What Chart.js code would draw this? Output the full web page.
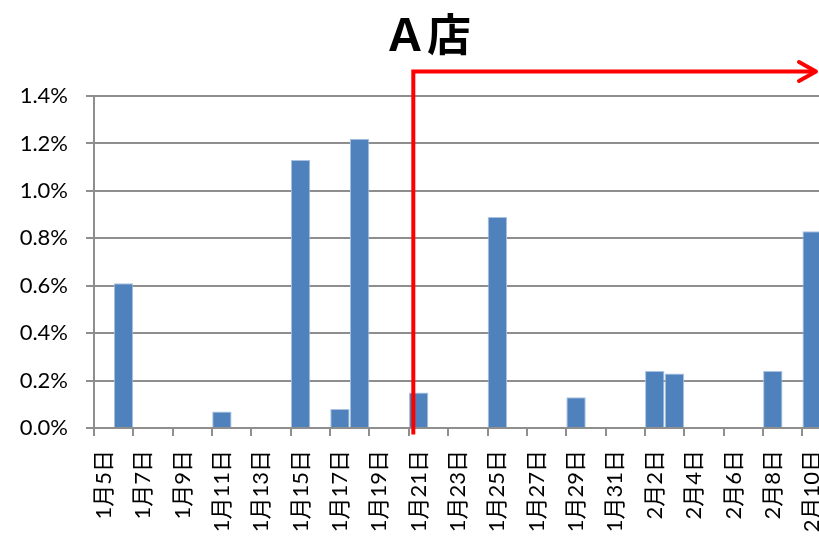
<!DOCTYPE html>
<html lang="ja">
<head>
<meta charset="utf-8">
<title>Ａ店</title>
<script src="https://cdn.jsdelivr.net/npm/chart.js@4.4.1/dist/chart.umd.min.js"></script>
<style>
  html, body { margin: 0; padding: 0; background: #ffffff; overflow: hidden; }
  #wrap { width: 819px; height: 541px; overflow: hidden; position: relative; }
  canvas { display: block; }
</style>
</head>
<body>
<div id="wrap"><canvas id="chart" width="854" height="570"></canvas></div>
<script>
// Daily rate for store A (percent)
const chartTitle = 'Ａ店';

const days = [
  '1月5日', '1月6日', '1月7日', '1月8日', '1月9日', '1月10日', '1月11日', '1月12日',
  '1月13日', '1月14日', '1月15日', '1月16日', '1月17日', '1月18日', '1月19日', '1月20日',
  '1月21日', '1月22日', '1月23日', '1月24日', '1月25日', '1月26日', '1月27日', '1月28日',
  '1月29日', '1月30日', '1月31日', '2月1日', '2月2日', '2月3日', '2月4日', '2月5日',
  '2月6日', '2月7日', '2月8日', '2月9日', '2月10日'
];

const rates = [
  0, 0.61, 0, 0, 0, 0, 0.07, 0,
  0, 0, 1.13, 0, 0.08, 1.22, 0, 0,
  0.15, 0, 0, 0, 0.89, 0, 0, 0,
  0.13, 0, 0, 0, 0.24, 0.23, 0, 0,
  0, 0, 0.24, 0, 0.83
];

const yTickLabels = ['0.0%', '0.2%', '0.4%', '0.6%', '0.8%', '1.0%', '1.2%', '1.4%'];
const yStep = 0.2;
const yMax = 1.4;

// the arrow marks the period starting on this day
const markerFromDay = '1月21日';

const axisGray = '#8e8e8e';
const latinFont = "Lato, 'Noto Sans CJK JP', sans-serif";

const periodArrow = {
  id: 'periodArrow',
  afterDatasetsDraw(chart) {
    const { ctx, scales: { x, y } } = chart;
    const idx = days.indexOf(markerFromDay);
    const step = (x.right - x.left) / days.length;
    const lx = x.getPixelForValue(idx) - step / 2 + 4.5;
    const top = 71.5;
    const bottom = y.bottom + 6.5;
    const tipX = 816;
    ctx.save();
    ctx.strokeStyle = '#ff0000';
    ctx.lineWidth = 4;
    ctx.lineCap = 'butt';
    ctx.lineJoin = 'miter';
    ctx.beginPath();
    ctx.moveTo(lx, bottom);
    ctx.lineTo(lx, top);
    ctx.lineTo(tipX - 1, top);
    ctx.stroke();
    ctx.lineCap = 'round';
    ctx.lineJoin = 'round';
    ctx.beginPath();
    ctx.moveTo(tipX - 17, top - 9.5);
    ctx.lineTo(tipX, top);
    ctx.lineTo(tipX - 17, top + 9.5);
    ctx.stroke();
    ctx.restore();
  }
};

new Chart(document.getElementById('chart'), {
  type: 'bar',
  data: {
    labels: days,
    datasets: [{
      data: rates,
      backgroundColor: '#4f81bd',
      borderColor: '#a9c2e1',
      borderWidth: (c) => (c.raw > 0 ? 1 : 0),
      barPercentage: 1.0,
      categoryPercentage: 0.985
    }]
  },
  options: {
    responsive: false,
    animation: false,
    devicePixelRatio: 1,
    layout: { padding: 0 },
    plugins: {
      legend: { display: false },
      tooltip: { enabled: false },
      title: {
        display: true,
        text: chartTitle,
        color: '#000000',
        font: { family: "'Noto Sans CJK JP', sans-serif", size: 44, weight: 'bold', lineHeight: 1.2 },
        padding: { top: 8, bottom: 35.2 }
      }
    },
    scales: {
      x: {
        afterFit(scale) {
          scale.height = 142;
          scale.paddingLeft = 0;
          scale.paddingRight = 32;
        },
        grid: {
          display: true,
          offset: true,
          drawOnChartArea: false,
          drawTicks: true,
          tickLength: 8,
          lineWidth: 2,
          color: (c) => (c.index % 2 === 0 ? axisGray : 'rgba(0,0,0,0)')
        },
        border: { display: true, color: axisGray, width: 2 },
        ticks: {
          autoSkip: false,
          maxRotation: 90,
          minRotation: 90,
          padding: 14,
          color: '#000000',
          font: { family: latinFont, size: 22 },
          callback: (v, i) => (i % 2 === 0 ? days[i] : '')
        }
      },
      y: {
        afterFit(scale) { scale.width = 94; },
        min: 0,
        max: yMax,
        grid: {
          color: axisGray,
          lineWidth: 2,
          tickLength: 8,
          drawTicks: true
        },
        border: { display: true, color: axisGray, width: 2 },
        ticks: {
          stepSize: yStep,
          padding: 18,
          color: '#000000',
          font: { family: latinFont, size: 22 },
          callback: (v) => yTickLabels[Math.round(v / yStep)]
        }
      }
    }
  },
  plugins: [periodArrow]
});
</script>
</body>
</html>
